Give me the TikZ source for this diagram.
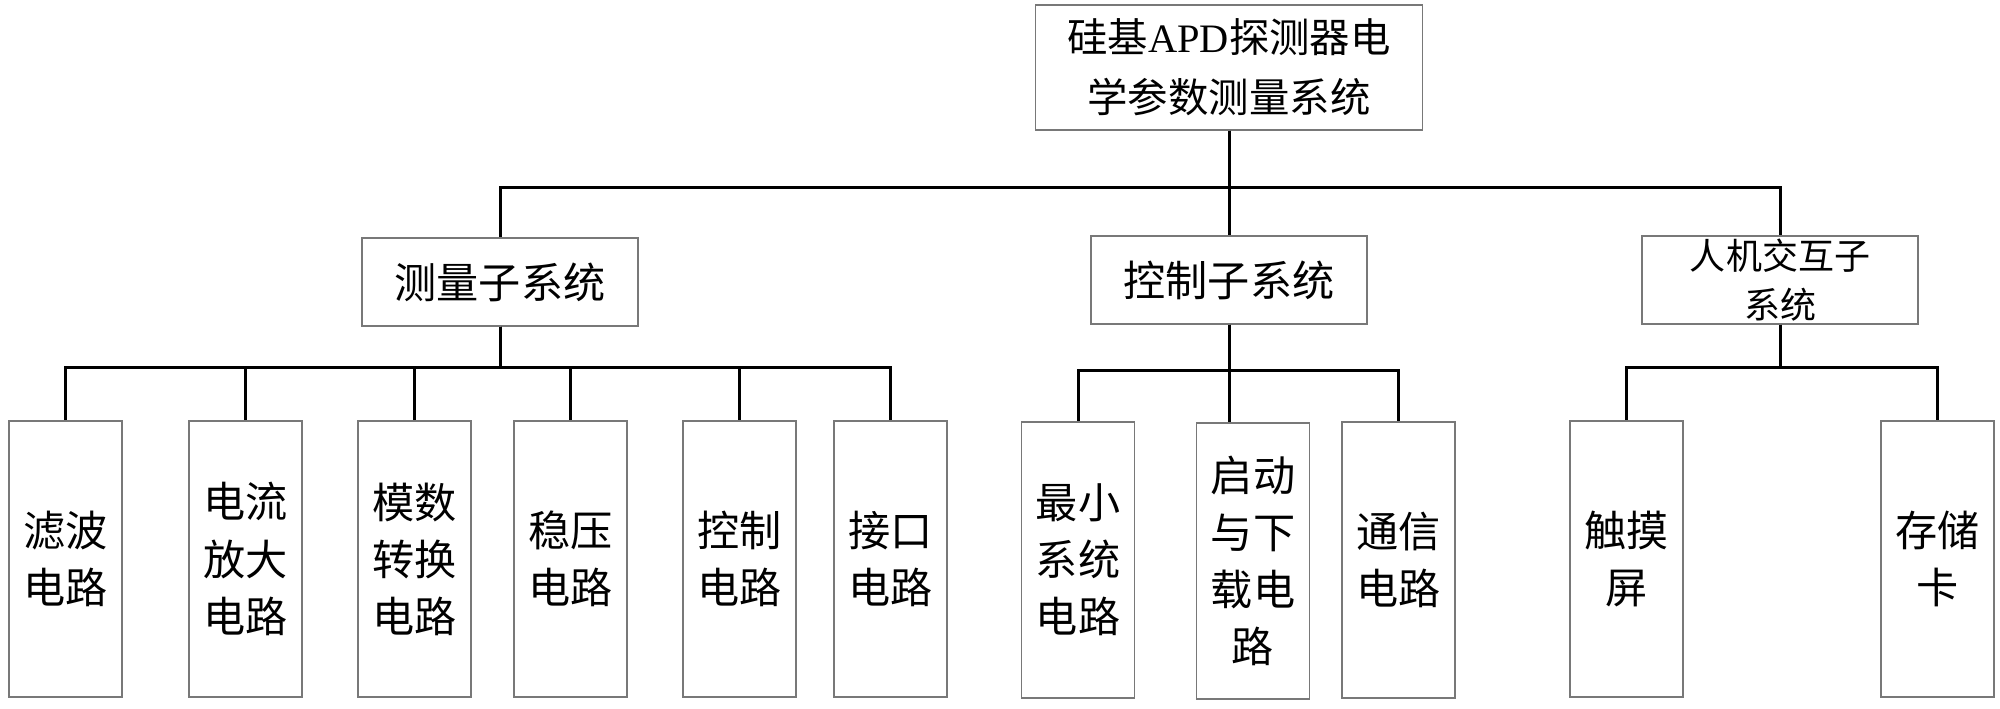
\documentclass[tikz,border=0pt]{standalone}
\usepackage{fontspec}
\setmainfont{Liberation Serif}
\newfontfamily\cjk{Noto Sans CJK SC}

\begin{document}
\begin{tikzpicture}[x=0.02cm,y=-0.02cm,
  box/.style={draw={rgb,255:red,120;green,120;blue,120},line width=0.8pt,inner sep=0pt,align=center},
  leaf/.style={box,minimum width=2.26cm,minimum height=5.52cm,font=\cjk\fontsize{24}{32.5}\selectfont},
  sub/.style={box,minimum width=5.52cm,minimum height=1.76cm,font=\cjk\fontsize{24}{32}\selectfont},
  link/.style={line width=1.7pt}]

  \useasboundingbox (0,0) rectangle (2000,708);

  \node[box,minimum width=7.74cm,minimum height=2.5cm,font=\fontsize{23}{34}\selectfont]
    (sys) at (1229,67.5) {{\cjk 硅基}APD{\cjk 探测器电}\\{\cjk 学参数测量系统}};

  \node[sub] (m) at (500,282) {测量子系统};
  \node[sub] (c) at (1229,280) {控制子系统};
  \node[sub,font=\cjk\fontsize{20.5}{27.5}\selectfont] (h) at (1780,280) {人机交互子\\系统};

  \node[leaf] (m1) at (65.5,559)  {滤波\\电路};
  \node[leaf] (m2) at (245.5,559) {电流\\放大\\电路};
  \node[leaf] (m3) at (414.5,559) {模数\\转换\\电路};
  \node[leaf] (m4) at (570.5,559) {稳压\\电路};
  \node[leaf] (m5) at (739.5,559) {控制\\电路};
  \node[leaf] (m6) at (890.5,559) {接口\\电路};

  \node[leaf] (c1) at (1078,560)  {最小\\系统\\电路};
  \node[leaf] (c2) at (1253,561)  {启动\\与下\\载电\\路};
  \node[leaf] (c3) at (1398.5,560) {通信\\电路};

  \node[leaf] (h1) at (1626.5,559) {触摸\\屏};
  \node[leaf] (h2) at (1937.5,559) {存储\\卡};

  \coordinate (bt) at (0,187);
  \coordinate (bm) at (0,367);
  \coordinate (bc) at (0,370);
  \coordinate (bh) at (0,367);

  \draw[link] (sys.south) |- (bt -| m) -- (m.north);
  \draw[link] (sys.south) -- (c.north);
  \draw[link] (sys.south) |- (bt -| h) -- (h.north);

  \draw[link] (m.south) |- (bm -| m1) -- (m1.north);
  \draw[link] (m.south) |- (bm -| m2) -- (m2.north);
  \draw[link] (m.south) |- (bm -| m3) -- (m3.north);
  \draw[link] (m.south) |- (bm -| m4) -- (m4.north);
  \draw[link] (m.south) |- (bm -| m5) -- (m5.north);
  \draw[link] (m.south) |- (bm -| m6) -- (m6.north);

  \draw[link] (c.south) |- (bc -| c1) -- (c1.north);
  \draw[link] (c.south) -- (c.south |- c2.north);
  \draw[link] (c.south) |- (bc -| c3) -- (c3.north);

  \draw[link] (h.south) |- (bh -| h1) -- (h1.north);
  \draw[link] (h.south) |- (bh -| h2) -- (h2.north);

\end{tikzpicture}
\end{document}
